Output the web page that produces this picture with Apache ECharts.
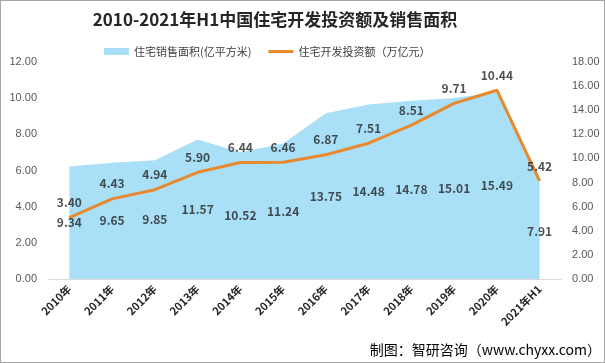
<!DOCTYPE html>
<html><head><meta charset="utf-8">
<script src="https://cdn.jsdelivr.net/npm/echarts@6/dist/echarts.min.js"></script>
<style>html,body{margin:0;padding:0;background:#fff}#c{width:603px;height:361px;border:1px solid #a6a6a6}</style>
</head><body><div id="c"></div>
<script>
var categories = ['2010年','2011年','2012年','2013年','2014年','2015年','2016年','2017年','2018年','2019年','2020年','2021年H1'];
var salesArea = [9.34,9.65,9.85,11.57,10.52,11.24,13.75,14.48,14.78,15.01,15.49,7.91];
var investment = [3.40,4.43,4.94,5.90,6.44,6.46,6.87,7.51,8.51,9.71,10.44,5.42];
var nameArea = '住宅销售面积(亿平方米)';
var nameLine = '住宅开发投资额（万亿元）';
var FONT = '"Noto Sans CJK SC","Noto Sans",sans-serif';
var chart = echarts.init(document.getElementById('c'));
chart.setOption({
  animation:false,
  backgroundColor:'#fff',
  title:{text:'2010-2021年H1中国住宅开发投资额及销售面积',left:269,textAlign:'center',top:5,
    textStyle:{fontSize:17,fontWeight:'bold',color:'#262626',fontFamily:FONT}},
  legend:{left:98,top:40,itemWidth:25,itemHeight:7,itemGap:17,
    textStyle:{fontSize:11,color:'#404040',fontFamily:FONT},
    data:[{name:nameArea,icon:'rect'},{name:nameLine,icon:'path://M0,0L25,0L25,3L0,3Z'}]},
  grid:{left:47,right:43,top:61,bottom:83},
  xAxis:{type:'category',data:categories,boundaryGap:true,
    axisLine:{lineStyle:{color:'#d9d9d9'}},axisTick:{show:false},
    axisLabel:{rotate:45,fontSize:11,fontWeight:'bold',color:'#262626',fontFamily:FONT,interval:0,margin:8}},
  yAxis:[
    {type:'value',min:0,max:12,interval:2,splitLine:{show:false},axisLine:{show:false},axisTick:{show:false},
     axisLabel:{formatter:function(v){return v.toFixed(2);},fontSize:11,color:'#595959',margin:11}},
    {type:'value',min:0,max:18,interval:2,splitLine:{show:false},axisLine:{show:false},axisTick:{show:false},
     axisLabel:{formatter:function(v){return v.toFixed(2);},fontSize:11,color:'#595959',margin:11}}
  ],
  series:[
    {name:nameArea,type:'line',yAxisIndex:1,data:salesArea,symbol:'none',
     lineStyle:{width:0},areaStyle:{color:'#a9dff7',opacity:1},itemStyle:{color:'#a9dff7'},z:1},
    {name:'areaLabels',type:'scatter',yAxisIndex:1,data:salesArea.map(function(v){return v/2;}),symbolSize:0,
     label:{show:true,position:'inside',fontSize:12,fontWeight:'bold',color:'#262626',fontFamily:FONT,
       formatter:function(p){return salesArea[p.dataIndex].toFixed(2);}},z:5,silent:true},
    {name:nameLine,type:'line',yAxisIndex:0,data:investment,symbol:'none',
     lineStyle:{width:3,color:'#e8892e'},itemStyle:{color:'#e8892e'},z:3},
    {name:'lineLabels',type:'scatter',yAxisIndex:0,data:investment,symbolSize:0,
     label:{show:true,position:'top',distance:9,fontSize:12,fontWeight:'bold',color:'#262626',fontFamily:FONT,
       formatter:function(p){return investment[p.dataIndex].toFixed(2);}},z:5,silent:true}
  ],
  graphic:[{type:'text',right:3,bottom:5,style:{text:'制图：智研咨询（www.chyxx.com）',fontSize:14,fill:'#000',fontFamily:FONT}}]
});
</script></body></html>
